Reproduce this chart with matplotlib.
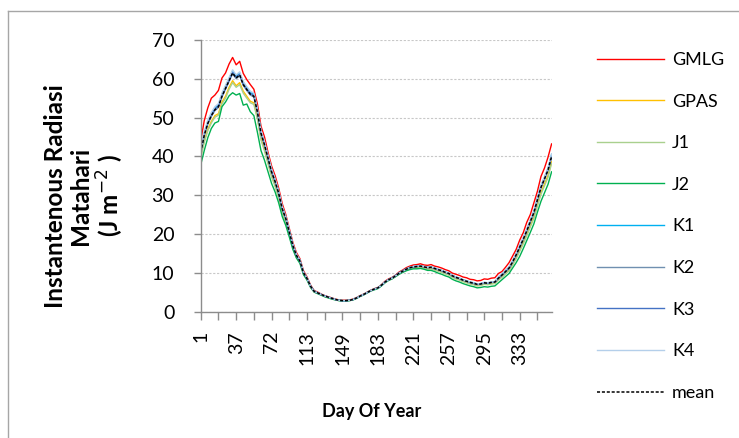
import matplotlib.pyplot as plt
from matplotlib.lines import Line2D

# Day of year for each sample (category axis)
days = [1, 5, 9, 12, 16, 19, 23, 26, 30, 33,
        37, 40, 44, 47, 51, 54, 58, 61, 65, 68,
        72, 76, 80, 84, 88, 92, 96, 100, 104, 108,
        113, 117, 120, 124, 127, 131, 134, 138, 141, 145,
        149, 152, 156, 159, 163, 166, 169, 173, 176, 180,
        183, 187, 191, 194, 198, 202, 206, 210, 213, 217,
        221, 225, 228, 232, 235, 239, 242, 246, 249, 253,
        257, 261, 265, 268, 272, 276, 280, 284, 287, 291,
        295, 299, 303, 306, 310, 314, 318, 322, 325, 329,
        333, 336, 340, 343, 347, 350, 354, 357, 361, 365]

gmlg = [44.0, 49.2, 52.5, 55.0, 55.8, 57.0, 60.2, 61.5, 63.8, 65.5,
        63.6, 64.5, 61.4, 59.8, 58.5, 57.3, 53.5, 47.8, 45.0, 41.0,
        37.5, 35.0, 31.8, 27.8, 25.0, 21.4, 17.8, 15.2, 13.6, 10.5,
        8.9, 6.8, 5.4, 5.0, 4.5, 4.1, 3.8, 3.5, 3.2, 3.0,
        2.9, 2.9, 3.0, 3.2, 3.6, 4.1, 4.5, 5.0, 5.5, 5.9,
        6.2, 6.9, 7.8, 8.4, 8.8, 9.4, 10.2, 10.7, 11.3, 11.7,
        12.0, 12.1, 12.3, 12.0, 11.9, 12.1, 11.7, 11.5, 11.2, 10.8,
        10.5, 9.9, 9.6, 9.3, 8.9, 8.7, 8.3, 8.2, 7.9, 8.0,
        8.4, 8.3, 8.6, 8.7, 9.8, 10.3, 11.4, 12.6, 14.3, 16.0,
        18.4, 20.3, 23.0, 25.0, 28.0, 31.0, 34.8, 37.0, 39.8, 43.2]

gpas = [40.0, 44.0, 47.0, 49.0, 50.5, 51.0, 54.0, 55.5, 57.8, 59.5,
        58.2, 59.0, 56.8, 55.5, 54.2, 53.8, 50.0, 44.6, 41.8, 38.4,
        35.0, 32.5, 29.6, 25.8, 23.3, 20.0, 16.6, 14.1, 12.7, 9.8,
        8.3, 6.4, 5.1, 4.7, 4.3, 3.9, 3.6, 3.3, 3.1, 2.9,
        2.8, 2.8, 2.9, 3.1, 3.5, 4.0, 4.4, 4.9, 5.4, 5.8,
        6.1, 6.8, 7.5, 8.1, 8.5, 9.1, 9.8, 10.3, 10.7, 11.1,
        11.3, 11.3, 11.4, 11.2, 11.0, 11.1, 10.8, 10.5, 10.2, 9.8,
        9.5, 8.9, 8.5, 8.2, 7.8, 7.5, 7.2, 7.0, 6.7, 6.8,
        7.1, 7.0, 7.2, 7.3, 8.3, 9.0, 9.9, 10.7, 12.2, 13.9,
        15.8, 17.8, 19.9, 22.2, 24.4, 27.6, 30.7, 32.9, 35.1, 38.6]

j1 = [39.6, 43.6, 46.6, 48.6, 50.1, 50.6, 53.5, 55.0, 57.3, 59.0,
      57.8, 58.5, 56.3, 55.0, 53.8, 53.4, 49.6, 44.2, 41.4, 38.0,
      34.7, 32.2, 29.3, 25.5, 23.0, 19.8, 16.4, 14.0, 12.6, 9.7,
      8.2, 6.3, 5.1, 4.7, 4.3, 3.9, 3.6, 3.3, 3.0, 2.8,
      2.7, 2.7, 2.8, 3.0, 3.4, 3.9, 4.3, 4.8, 5.3, 5.7,
      6.0, 6.7, 7.5, 8.1, 8.5, 9.1, 9.7, 10.2, 10.6, 11.0,
      11.2, 11.2, 11.3, 11.1, 10.9, 11.0, 10.7, 10.4, 10.1, 9.7,
      9.4, 8.8, 8.4, 8.1, 7.7, 7.4, 7.1, 6.9, 6.6, 6.7,
      7.0, 6.9, 7.1, 7.2, 8.1, 8.8, 9.7, 10.5, 12.0, 13.6,
      15.5, 17.4, 19.5, 21.8, 24.0, 27.1, 30.2, 32.4, 34.6, 38.2]

j2 = [37.8, 41.5, 44.8, 47.2, 48.6, 49.0, 52.8, 54.0, 55.6, 56.4,
      55.8, 56.2, 53.2, 53.5, 51.5, 50.5, 46.2, 41.5, 39.0, 36.0,
      33.0, 30.8, 28.0, 24.5, 22.2, 19.2, 16.0, 13.8, 12.4, 9.5,
      8.1, 6.2, 5.0, 4.6, 4.2, 3.8, 3.5, 3.2, 3.0, 2.8,
      2.7, 2.7, 2.8, 3.0, 3.4, 3.9, 4.3, 4.8, 5.3, 5.6,
      5.9, 6.6, 7.4, 8.0, 8.4, 9.0, 9.6, 10.1, 10.5, 10.8,
      11.0, 11.0, 11.1, 10.9, 10.6, 10.6, 10.3, 9.9, 9.6, 9.2,
      8.9, 8.3, 7.9, 7.6, 7.2, 6.9, 6.6, 6.4, 6.1, 6.2,
      6.4, 6.3, 6.5, 6.6, 7.4, 8.2, 9.0, 9.8, 11.2, 12.6,
      14.2, 16.2, 18.3, 20.4, 22.6, 25.6, 28.4, 30.6, 32.8, 36.0]

k1 = [41.4, 46.0, 49.0, 51.0, 52.5, 53.3, 56.0, 58.0, 60.0, 62.0,
      60.7, 61.5, 59.0, 57.7, 56.5, 56.0, 52.0, 46.4, 43.4, 39.9,
      36.4, 33.8, 30.8, 26.8, 24.3, 20.8, 17.2, 14.7, 13.2, 10.1,
      8.6, 6.6, 5.3, 4.8, 4.4, 4.0, 3.7, 3.4, 3.1, 2.9,
      2.8, 2.8, 2.9, 3.1, 3.5, 4.0, 4.4, 4.9, 5.4, 5.8,
      6.1, 6.8, 7.6, 8.2, 8.7, 9.3, 10.0, 10.5, 11.0, 11.4,
      11.6, 11.7, 11.8, 11.6, 11.4, 11.5, 11.2, 10.9, 10.6, 10.2,
      9.9, 9.3, 8.9, 8.6, 8.2, 7.9, 7.6, 7.4, 7.1, 7.2,
      7.5, 7.4, 7.6, 7.7, 8.8, 9.6, 10.5, 11.4, 13.0, 14.8,
      16.9, 18.9, 21.1, 23.5, 25.8, 29.2, 32.4, 34.6, 36.9, 40.5]

k2 = [40.8, 45.3, 48.3, 50.3, 51.8, 52.6, 55.3, 57.3, 59.3, 61.3,
      60.0, 60.8, 58.3, 57.0, 55.8, 55.3, 51.3, 45.8, 42.8, 39.3,
      35.8, 33.3, 30.3, 26.4, 23.9, 20.4, 16.9, 14.4, 12.9, 10.0,
      8.5, 6.5, 5.2, 4.8, 4.4, 4.0, 3.7, 3.4, 3.1, 2.9,
      2.8, 2.8, 2.9, 3.1, 3.5, 4.0, 4.4, 4.9, 5.4, 5.8,
      6.1, 6.8, 7.6, 8.2, 8.6, 9.2, 9.9, 10.4, 10.9, 11.3,
      11.5, 11.6, 11.7, 11.5, 11.3, 11.4, 11.1, 10.8, 10.5, 10.1,
      9.8, 9.2, 8.8, 8.5, 8.1, 7.8, 7.5, 7.3, 7.0, 7.1,
      7.4, 7.3, 7.5, 7.6, 8.5, 9.3, 10.2, 11.1, 12.7, 14.5,
      16.5, 18.5, 20.7, 23.1, 25.4, 28.7, 31.9, 34.1, 36.4, 39.9]

k3 = [41.2, 45.7, 48.7, 50.7, 52.2, 53.0, 55.7, 57.7, 59.7, 61.7,
      60.4, 61.2, 58.7, 57.4, 56.2, 55.7, 51.7, 46.2, 43.2, 39.7,
      36.2, 33.7, 30.7, 26.7, 24.2, 20.7, 17.1, 14.6, 13.1, 10.1,
      8.5, 6.5, 5.2, 4.8, 4.4, 4.0, 3.7, 3.4, 3.1, 2.9,
      2.8, 2.8, 2.9, 3.1, 3.5, 4.0, 4.4, 4.9, 5.4, 5.8,
      6.1, 6.8, 7.6, 8.2, 8.6, 9.2, 9.9, 10.4, 10.9, 11.3,
      11.5, 11.6, 11.7, 11.5, 11.3, 11.4, 11.1, 10.8, 10.5, 10.1,
      9.8, 9.2, 8.8, 8.5, 8.1, 7.8, 7.5, 7.3, 7.0, 7.1,
      7.4, 7.3, 7.5, 7.6, 8.7, 9.5, 10.4, 11.3, 12.9, 14.7,
      16.7, 18.7, 20.9, 23.3, 25.6, 28.9, 32.1, 34.3, 36.6, 40.1]

k4 = [41.8, 46.3, 49.3, 51.3, 52.8, 53.6, 56.3, 58.3, 60.3, 62.3,
      61.0, 61.8, 59.3, 58.0, 56.8, 56.3, 52.3, 46.8, 43.8, 40.3,
      36.8, 34.2, 31.1, 27.1, 24.5, 21.0, 17.4, 14.8, 13.3, 10.2,
      8.6, 6.5, 5.2, 4.8, 4.4, 4.0, 3.7, 3.4, 3.1, 2.9,
      2.8, 2.8, 2.9, 3.1, 3.5, 4.0, 4.4, 4.9, 5.4, 5.8,
      6.1, 6.8, 7.6, 8.2, 8.6, 9.2, 9.9, 10.4, 10.9, 11.4,
      11.6, 11.7, 11.8, 11.6, 11.4, 11.5, 11.2, 10.9, 10.6, 10.2,
      9.9, 9.3, 8.9, 8.6, 8.2, 7.9, 7.6, 7.4, 7.1, 7.2,
      7.5, 7.4, 7.6, 7.7, 9.0, 9.8, 10.7, 11.6, 13.2, 15.0,
      17.1, 19.1, 21.3, 23.7, 26.0, 29.3, 32.5, 34.7, 37.0, 40.6]

mean = [41.0, 45.5, 48.5, 50.5, 52.0, 52.8, 55.5, 57.5, 59.5, 61.5,
        60.2, 61.0, 58.5, 57.2, 56.0, 55.5, 51.5, 46.0, 43.0, 39.5,
        36.0, 33.5, 30.5, 26.5, 24.0, 20.5, 17.0, 14.5, 13.0, 10.0,
        8.5, 6.5, 5.2, 4.8, 4.4, 4.0, 3.7, 3.4, 3.1, 2.9,
        2.8, 2.8, 2.9, 3.1, 3.5, 4.0, 4.4, 4.9, 5.4, 5.8,
        6.1, 6.8, 7.6, 8.2, 8.6, 9.2, 9.9, 10.4, 10.9, 11.3,
        11.5, 11.6, 11.7, 11.5, 11.3, 11.4, 11.1, 10.8, 10.5, 10.1,
        9.8, 9.2, 8.8, 8.5, 8.1, 7.8, 7.5, 7.3, 7.0, 7.1,
        7.4, 7.3, 7.5, 7.6, 8.6, 9.4, 10.3, 11.2, 12.8, 14.6,
        16.6, 18.6, 20.8, 23.2, 25.5, 28.8, 32.0, 34.2, 36.5, 40.0]

names = ['GMLG', 'GPAS', 'J1', 'J2', 'K1', 'K2', 'K3', 'K4']
series = [gmlg, gpas, j1, j2, k1, k2, k3, k4]
colors = ['#FF0000', '#FFC000', '#A9D08E', '#00B050',
          '#00B0F0', '#7090B0', '#4472C4', '#B4CFEA']

plt.rcParams['font.family'] = ['Lato', 'DejaVu Sans']

fig = plt.figure(figsize=(7.39, 4.38), dpi=100)
ax = fig.add_axes([0.2716, 0.2888, 0.4748, 0.6199])

idx = list(range(len(days)))
handles = []
for name, vals, col in zip(names, series, colors):
    h, = ax.plot(idx, vals, color=col, lw=1.0, label=name)
    handles.append(h)
h, = ax.plot(idx, mean, color='black', lw=1.1, ls=(0, (2, 1.2)), label='mean')
handles.append(h)

ax.set_xlim(0, len(days) - 1)
ax.set_ylim(0, 70)
ax.set_yticks(range(0, 71, 10))
ax.set_xticks(idx[::5])
ax.set_xticklabels([str(days[i]) if i % 10 == 0 else '' for i in idx[::5]], rotation=90, fontsize=14)
ax.tick_params(axis='y', labelsize=14, length=5, width=1, color='#8C8C8C', pad=14)
ax.tick_params(axis='x', length=6, width=1, color='#8C8C8C', pad=8)

ax.grid(axis='y', color='#C8C8C8', ls=(0, (2, 1.5)), lw=0.8)
ax.set_axisbelow(True)
for s in ['top', 'right']:
    ax.spines[s].set_visible(False)
for s in ['left', 'bottom']:
    ax.spines[s].set_color('#8C8C8C')
    ax.spines[s].set_linewidth(1.0)

fig.text(0.115, 0.553, 'Instantenous Radiasi\nMatahari\n(J m$^{-2}$ )', rotation=90,
         ha='center', va='center', multialignment='center', fontsize=17.5,
         fontweight='bold', linespacing=1.12)
fig.text(0.503, 0.06, 'Day Of Year', ha='center', va='center', fontsize=13, fontweight='bold')

ax.legend(handles=handles, loc='center left', bbox_to_anchor=(0.786, 0.483),
          bbox_transform=fig.transFigure, frameon=False, handlelength=3.7,
          labelspacing=1.42, handletextpad=0.45, fontsize=13)

# chart area border (partly cropped)
fig.add_artist(Line2D([0.011, 1.0], [0.975, 0.975], transform=fig.transFigure, color='#A6A6A6', lw=1))
fig.add_artist(Line2D([0.011, 0.011], [0.0, 0.975], transform=fig.transFigure, color='#A6A6A6', lw=1))

fig.savefig('out.png', dpi=100)
